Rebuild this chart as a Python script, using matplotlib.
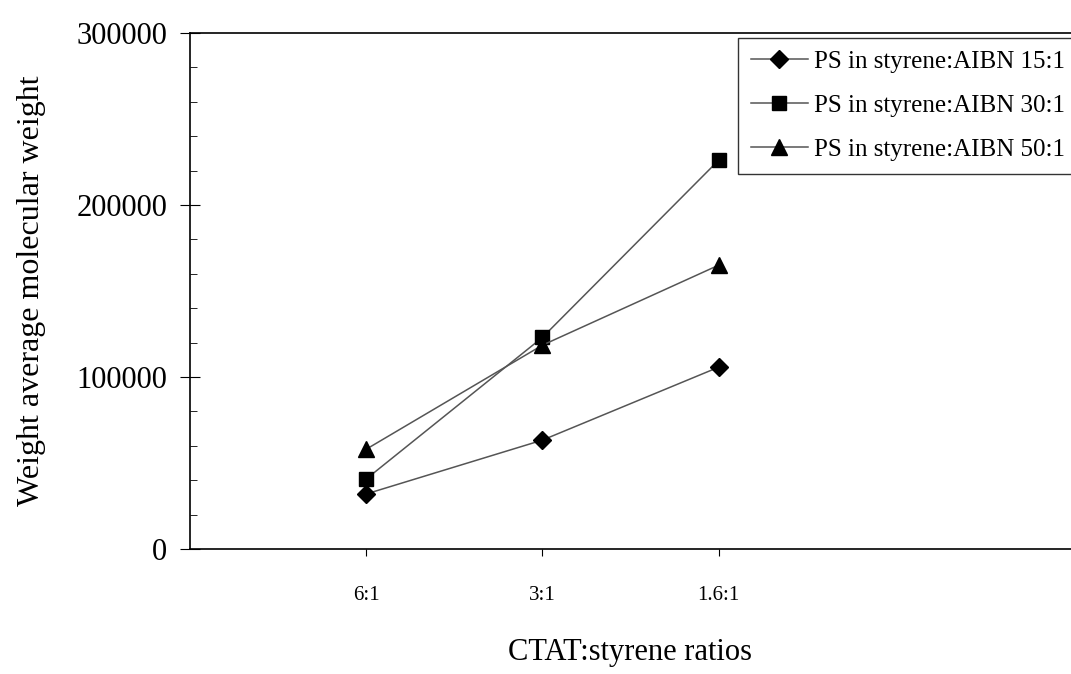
import matplotlib.pyplot as plt
from matplotlib.ticker import MultipleLocator

# CTAT:styrene ratio categories
ratios = ['6:1', '3:1', '1.6:1']
positions = [1, 2, 3]

# weight average molecular weight for each AIBN ratio
mw_15 = [32000, 63300, 105700]
mw_30 = [40700, 123000, 226000]
mw_50 = [58000, 118500, 165000]

plt.rcParams['font.family'] = ['Liberation Serif', 'DejaVu Serif']

fig = plt.figure(figsize=(10.71, 6.74), dpi=100)
ax = fig.add_axes([190 / 1071, 125 / 674, 881 / 1071, 516 / 674])

ax.plot(positions, mw_15, color='#555555', lw=1.1, marker='D', ms=9,
        mfc='black', mec='black', label='PS in styrene:AIBN 15:1')
ax.plot(positions, mw_30, color='#555555', lw=1.1, marker='s', ms=10,
        mfc='black', mec='black', label='PS in styrene:AIBN 30:1')
ax.plot(positions, mw_50, color='#555555', lw=1.1, marker='^', ms=11,
        mfc='black', mec='black', label='PS in styrene:AIBN 50:1')

ax.set_xlim(0, 5)
ax.set_ylim(0, 300000)
ax.set_xticks(positions)
ax.set_xticklabels(ratios)
ax.yaxis.set_major_locator(MultipleLocator(100000))
ax.yaxis.set_minor_locator(MultipleLocator(20000))
ax.tick_params(axis='y', which='major', direction='inout', length=15,
               labelsize=22, pad=9)
ax.tick_params(axis='y', which='minor', direction='in', length=5)
ax.tick_params(axis='x', which='major', direction='out', length=5,
               labelsize=15, pad=22)

for s in ['left', 'bottom', 'top']:
    ax.spines[s].set_linewidth(1.2)
ax.spines['right'].set_visible(False)

ax.set_ylabel('Weight average molecular weight', fontsize=23)
ax.yaxis.set_label_coords(-0.163, 0.5)
ax.set_xlabel('CTAT:styrene ratios', fontsize=22)
ax.xaxis.set_label_coords(0.5, -0.172)

leg = ax.legend(loc='upper left', bbox_to_anchor=(738 / 1071, 636 / 674),
                bbox_transform=fig.transFigure, fontsize=18, frameon=True,
                fancybox=False, edgecolor='#333333', framealpha=1,
                handlelength=2.3, borderpad=0.5, labelspacing=0.86,
                handletextpad=0.25, borderaxespad=0)
leg.get_frame().set_linewidth(1.0)

fig.savefig('out.png', dpi=100)
